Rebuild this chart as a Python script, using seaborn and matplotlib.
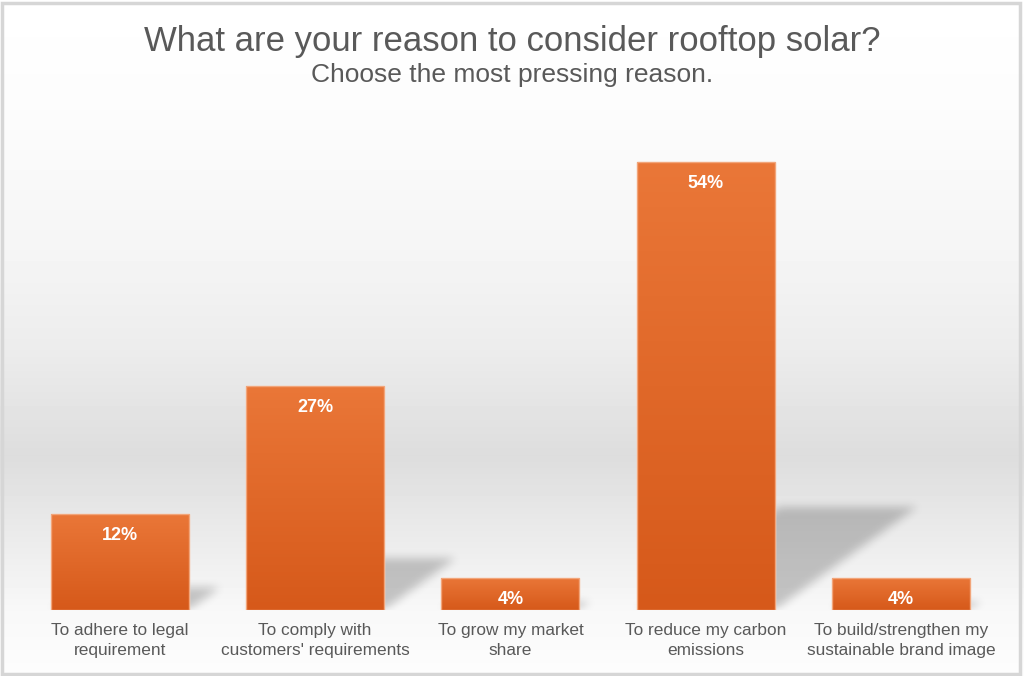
import numpy as np
import pandas as pd
import matplotlib
matplotlib.use("Agg")
import matplotlib.pyplot as plt
from matplotlib.colors import LinearSegmentedColormap
from matplotlib.patches import Rectangle
import seaborn as sns

# ── Data ─────────────────────────────────────────────────────────────────────
reasons = [
    "To adhere to legal\nrequirement",
    "To comply with\ncustomers' requirements",
    "To grow my market\nshare",
    "To reduce my carbon\nemissions",
    "To build/strengthen my\nsustainable brand image",
]
shares = [11.6, 27, 3.9, 54, 3.9]

TITLE = "What are your reason to consider rooftop solar?"
SUBTITLE = "Choose the most pressing reason."

# ── Style ────────────────────────────────────────────────────────────────────
sns.set_theme(style="white")
plt.rcParams["font.family"] = ["Liberation Sans", "DejaVu Sans"]
GREY_TXT = "#595959"
BAR_TOP, BAR_BOT = "#ea7738", "#d6591a"
BAR_W = 0.706

df = pd.DataFrame({"reason": reasons, "share": shares})

fig = plt.figure(figsize=(10.24, 6.76), dpi=100)

# background: soft vertical grey gradient
bg = fig.add_axes([0, 0, 1, 1], zorder=-10)
stop_px = [0, 110, 250, 350, 455, 530, 610, 676]
stop_val = [255, 252, 245, 236, 221, 234, 248, 253]
col = np.interp(np.arange(676), stop_px, stop_val) / 255
bg.imshow(np.repeat(col[:, None], 2, axis=1), cmap="gray", vmin=0, vmax=1,
          aspect="auto", extent=[0, 1, 0, 1])
bg.axis("off")
fig.patches.append(Rectangle((0.002, 0.003), 0.994, 0.993, transform=fig.transFigure,
                             fill=False, edgecolor="#d6d6d6", lw=2.5))

# ── Bars ─────────────────────────────────────────────────────────────────────
ax = fig.add_axes([0.0215, 0.0976, 0.954, 0.737])
ax.patch.set_alpha(0)

sns.barplot(data=df, x="reason", y="share", color=BAR_BOT, width=BAR_W,
            ax=ax, zorder=3)

# soft drop shadows (skewed to the right, blurred)
nx, ny, ytop = 1000, 200, 16
X, Y = np.meshgrid(np.linspace(-0.5, 4.5, nx), np.linspace(0, ytop, ny))
mask = np.zeros_like(X)
for i, v in enumerate(shares):
    hs, dx = v * 0.23, v * 0.0135
    xs = X - Y / hs * dx
    mask[(Y <= hs) & (xs >= i - BAR_W / 2) & (xs <= i + BAR_W / 2)] = 1.0


def box(a, k, axis):
    kern = np.ones(k) / k
    return np.apply_along_axis(lambda r: np.convolve(r, kern, mode="same"), axis, a)


for _ in range(3):
    mask = box(box(mask, 9, 1), 13, 0)
shadow = np.zeros((ny, nx, 4))
shadow[..., 3] = mask * 0.21
ax.imshow(shadow, origin="lower", extent=[-0.5, 4.5, 0, ytop], aspect="auto",
          interpolation="bilinear", zorder=1)

# gradient fill + light edge
grad = LinearSegmentedColormap.from_list("bar", [BAR_BOT, BAR_TOP])
for p in list(ax.patches):
    x0, w, h = p.get_x(), p.get_width(), p.get_height()
    im = ax.imshow(np.linspace(0, 1, 256)[:, None], cmap=grad, origin="lower",
                   extent=[x0, x0 + w, 0, h], aspect="auto", zorder=4)
    im.set_clip_path(p)
    ax.add_patch(Rectangle((x0, 0), w, h, fill=False, edgecolor="#f2a57a",
                           lw=1, zorder=5))

for i, v in enumerate(shares):
    ax.annotate(f"{v:.0f}%", (i, v), xytext=(0, -13), textcoords="offset pixels",
                ha="center", va="top", color="white", fontweight="bold",
                fontsize=13, zorder=6)

ax.set_xlim(-0.5, len(shares) - 0.5)
ax.set_ylim(0, 60)
ax.set_xlabel("")
ax.set_ylabel("")
ax.set_yticks([])
ax.tick_params(axis="x", length=0, pad=9, labelsize=12.4, labelcolor=GREY_TXT)
for lbl in ax.get_xticklabels():
    lbl.set_linespacing(1.45)
sns.despine(ax=ax, left=True, bottom=True)

fig.text(0.5, 0.924, TITLE, ha="center", va="baseline", fontsize=25, color=GREY_TXT)
fig.text(0.5, 0.879, SUBTITLE, ha="center", va="baseline", fontsize=19, color=GREY_TXT)

fig.savefig("out.png", dpi=100)
